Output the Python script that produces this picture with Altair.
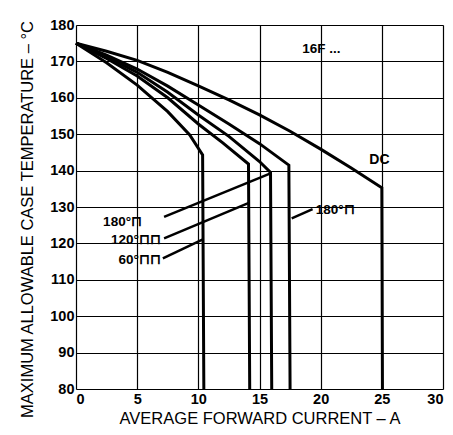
import altair as alt
import pandas as pd

# ---- data ----
series_names = ["DC", "180 sine", "180 square", "120 square", "60 square"]
dc_x = [0, 2.5, 5, 7.5, 10, 12.5, 15, 17.5, 20, 22.5, 25, 25.05]
dc_y = [175, 172.8, 170.3, 167.0, 163.3, 159.4, 155.3, 150.8, 145.9, 140.7, 135.3, 80]
s180_x = [0, 2.5, 5, 7.5, 10, 12.5, 15, 17.4, 17.5]
s180_y = [175, 171.7, 167.9, 163.2, 158.0, 152.8, 147.4, 141.5, 80]
q180_x = [0, 2.5, 5, 7.5, 10, 12.5, 15, 15.9, 16.0]
q180_y = [175, 171.3, 167.0, 161.5, 155.3, 149.4, 142.5, 139.5, 80]
q120_x = [0, 2.5, 5, 7.5, 10, 12, 14.1, 14.2]
q120_y = [175, 170.8, 166.0, 160.0, 152.8, 147.6, 141.8, 80]
q60_x = [0, 2.5, 5, 7.5, 9.3, 10.35, 10.45]
q60_y = [175, 169.6, 163.5, 156.2, 149.8, 144.3, 80]

ptr_x = [7.2, 7.2, 7.1, 17.63]
ptr_y = [127.3, 121.4, 115.9, 126.9]
ptr_x2 = [15.95, 14.18, 10.37, 19.34]
ptr_y2 = [139.3, 131.2, 121.1, 129.4]

lbl_text = ["180°⊓", "120°⊓⊓", "60°⊓⊓"]
lbl_x = [5.4, 6.95, 6.95]
lbl_y = [126.0, 120.8, 115.5]

rlbl_text = ["180°⊓", "16F ..."]
rlbl_x = [19.6, 18.5]
rlbl_y = [129.2, 173.4]

dc_text = ["DC"]
dc_tx = [24.8]
dc_ty = [143.0]

x_ticks = [0, 5, 10, 15, 20, 25, 30]
y_ticks = [80, 90, 100, 110, 120, 130, 140, 150, 160, 170, 180]

# ---- build tables ----
rows = []
for name, xs_, ys_ in zip(series_names,
                          [dc_x, s180_x, q180_x, q120_x, q60_x],
                          [dc_y, s180_y, q180_y, q120_y, q60_y]):
    for i, (a, b) in enumerate(zip(xs_, ys_)):
        rows.append({"series": name, "i": i, "x": a, "y": b})
curves = pd.DataFrame(rows)
ptrs = pd.DataFrame({"x": ptr_x, "y": ptr_y, "x2": ptr_x2, "y2": ptr_y2})
lbls = pd.DataFrame({"t": lbl_text, "x": lbl_x, "y": lbl_y})
rlbls = pd.DataFrame({"t": rlbl_text, "x": rlbl_x, "y": rlbl_y})
dcl = pd.DataFrame({"t": dc_text, "x": dc_tx, "y": dc_ty})

FONT = "Liberation Sans"

xs = alt.Scale(domain=[0, 30], nice=False)
ys = alt.Scale(domain=[80, 180], nice=False)

x_axis = alt.Axis(values=x_ticks, grid=True, gridColor="black", gridWidth=1.2,
                  gridOpacity=1, domain=False, ticks=False, labelPadding=3,
                  labelFont=FONT, labelFontSize=14.5, labelFontWeight="bold",
                  labelColor="black", labelFlush=True, labelOverlap=False,
                  title="AVERAGE FORWARD CURRENT – A", titleFont=FONT,
                  titleFontSize=16.5, titleFontWeight="normal", titleColor="black",
                  titleY=34, titleBaseline="alphabetic")
y_axis = alt.Axis(values=y_ticks, grid=True, gridColor="black", gridWidth=1.2,
                  gridOpacity=1, domain=False, ticks=False, labelPadding=2,
                  labelFont=FONT, labelFontSize=14.5, labelFontWeight="bold",
                  labelColor="black", labelFlush=False, labelOverlap=False,
                  title="MAXIMUM ALLOWABLE CASE TEMPERATURE – °C", titleFont=FONT,
                  titleFontSize=16.5, titleFontWeight="normal", titleColor="black",
                  titleX=-44, titleY=194, titleAngle=-90, titleBaseline="alphabetic",
                  titleAlign="center")

X = alt.X("x:Q", scale=xs, axis=x_axis)
Y = alt.Y("y:Q", scale=ys, axis=y_axis)

lines = alt.Chart(curves).mark_line(color="black", strokeWidth=3).encode(
    x=X, y=Y, detail="series:N", order="i:Q",
)

pointers = alt.Chart(ptrs).mark_rule(color="black", strokeWidth=2.5).encode(
    x=X, y=Y, x2="x2:Q", y2="y2:Q"
)

left_labels = alt.Chart(lbls).mark_text(font=FONT, fontSize=13.5, fontWeight="bold",
                                        align="right", baseline="middle", color="black").encode(
    x=X, y=Y, text="t:N"
)
right_labels = alt.Chart(rlbls).mark_text(font=FONT, fontSize=13.5, fontWeight="bold",
                                          align="left", baseline="middle", color="black").encode(
    x=X, y=Y, text="t:N"
)
dc_label = alt.Chart(dcl).mark_text(font=FONT, fontSize=14, fontWeight="bold",
                                    align="center", baseline="middle", color="black").encode(
    x=X, y=Y, text="t:N"
)

chart = alt.layer(lines, pointers, left_labels, right_labels, dc_label).properties(
    width=367, height=364,
    autosize=alt.AutoSizeParams(type="none"),
    padding={"left": 68, "top": 17, "right": 2, "bottom": 38},
).configure_view(stroke="black", strokeWidth=2.5).configure(background="white")

chart.save("out.html", embed_options={"renderer": "svg", "actions": False})
